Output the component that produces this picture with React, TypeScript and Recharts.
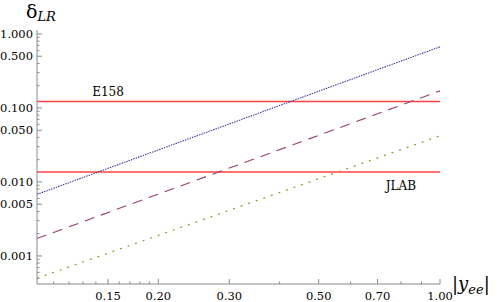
import React from "react";
import {
  LineChart,
  Line,
  XAxis,
  YAxis,
  ReferenceLine,
  ReferenceDot,
  Label,
} from "recharts";

const X_MAJOR = [0.15, 0.2, 0.3, 0.5, 0.7, 1.0];
const X_MINOR = [0.11, 0.12, 0.13, 0.14, 0.16, 0.17, 0.18, 0.19, 0.4, 0.6, 0.8, 0.9];
const Y_MAJOR = [0.001, 0.005, 0.01, 0.05, 0.1, 0.5, 1.0];
const Y_MINOR = [
  0.0005, 0.0006, 0.0007, 0.0008, 0.0009, 0.002, 0.003, 0.004, 0.006, 0.007, 0.008, 0.009,
  0.02, 0.03, 0.04, 0.06, 0.07, 0.08, 0.09, 0.2, 0.3, 0.4, 0.6, 0.7, 0.8, 0.9,
];

// curves (straight on log-log axes), read at the ends
const blueCurve = [
  { x: 0.1, y: 0.0068 },
  { x: 1.0, y: 0.67 },
];
const purpleCurve = [
  { x: 0.1, y: 0.00172 },
  { x: 1.0, y: 0.17 },
];
const oliveCurve = [
  { x: 0.1, y: 0.0005 },
  { x: 1.0, y: 0.042 },
];

// experimental bounds
const E158 = 0.122;
const JLAB = 0.0136;
const annotations = [
  { text: "E158", x: 0.15, y: 0.167 },
  { text: "JLAB", x: 0.8, y: 0.00883 },
];

// only DejaVu Serif renders with serifs here
const FONT = "DejaVu Serif";
const AXIS = "#8a8a8a";

const YTick = (props: any) => {
  const { x, y, payload } = props;
  const v = payload.value;
  const major = Y_MAJOR.some((m) => Math.abs(m - v) < 1e-9);
  const ax = x + 4;
  return (
    <g>
      <line x1={ax} x2={ax + (major ? 5 : 2.5)} y1={y} y2={y} stroke={AXIS} strokeWidth={1} />
      {major && (
        <text x={x} y={y} dy="0.36em" textAnchor="end" fontFamily={FONT} fontSize={11.5} fill="#000">
          {v.toFixed(3)}
        </text>
      )}
    </g>
  );
};

const XTick = (props: any) => {
  const { x, y, payload } = props;
  const v = payload.value;
  const major = X_MAJOR.some((m) => Math.abs(m - v) < 1e-9);
  return (
    <g>
      <line x1={x} x2={x} y1={y} y2={y - (major ? 5 : 2.5)} stroke={AXIS} strokeWidth={1} />
      {major && (
        <text x={x} y={y + 16} textAnchor="middle" fontFamily={FONT} fontSize={11.5} fill="#000">
          {v.toFixed(2)}
        </text>
      )}
    </g>
  );
};

export default function App() {
  return (
    <div style={{ position: "absolute", left: 0, top: 0, background: "#fff" }}>
      <LineChart width={498} height={302} margin={{ top: 30, right: 58, bottom: 0, left: 0 }}>
        <XAxis
          type="number"
          dataKey="x"
          scale="log"
          domain={[0.1, 1.0]}
          allowDataOverflow
          ticks={[...X_MINOR, ...X_MAJOR].sort((a, b) => a - b)}
          interval={0}
          tick={<XTick />}
          tickLine={false}
          tickSize={0}
          tickMargin={0}
          height={18}
          axisLine={{ stroke: AXIS }}
        >
          <Label
            content={(p: any) => {
              const vb = p.viewBox;
              const lx = vb.x + vb.width + 12;
              const ly = vb.y + 6;
              return (
                <text x={lx} y={ly} fontFamily={FONT} fontSize={18} fill="#000">
                  <tspan>|</tspan>
                  <tspan fontStyle="italic">y</tspan>
                  <tspan fontStyle="italic" fontSize={13} dy={4}>ee</tspan>
                  <tspan dy={-4}>|</tspan>
                </text>
              );
            }}
          />
        </XAxis>
        <YAxis
          type="number"
          dataKey="y"
          scale="log"
          domain={[0.000418, 1.13]}
          allowDataOverflow
          ticks={[...Y_MINOR, ...Y_MAJOR].sort((a, b) => a - b)}
          interval={0}
          tick={<YTick />}
          tickLine={false}
          tickSize={0}
          tickMargin={4}
          width={37}
          axisLine={{ stroke: AXIS }}
        >
          <Label
            content={(p: any) => {
              const vb = p.viewBox;
              return (
                <text x={vb.x + 26} y={vb.y - 12} fontFamily={FONT} fontSize={19} fill="#000">
                  <tspan>δ</tspan>
                  <tspan fontStyle="italic" fontSize={13} dy={3}>LR</tspan>
                </text>
              );
            }}
          />
        </YAxis>
        <ReferenceLine y={E158} stroke="#ff4040" strokeWidth={1.4} ifOverflow="hidden" />
        <ReferenceLine y={JLAB} stroke="#ff4040" strokeWidth={1.4} ifOverflow="hidden" />
        <Line
          data={blueCurve}
          dataKey="y"
          type="linear"
          stroke="#3d3da0"
          strokeWidth={1.1}
          strokeDasharray="1.5 1"
          dot={false}
          isAnimationActive={false}
        />
        <Line
          data={purpleCurve}
          dataKey="y"
          type="linear"
          stroke="#9a3d72"
          strokeWidth={1.1}
          strokeDasharray="10 7"
          dot={false}
          isAnimationActive={false}
        />
        <Line
          data={oliveCurve}
          dataKey="y"
          type="linear"
          stroke="#a6963f"
          strokeWidth={1.3}
          strokeDasharray="2 6"
          dot={false}
          isAnimationActive={false}
        />
        {annotations.map((a) => (
          <ReferenceDot
            key={a.text}
            x={a.x}
            y={a.y}
            r={1}
            fill="none"
            stroke="none"
            label={(p: any) => {
              const vb = p.viewBox;
              return (
                <text
                  x={vb.x + vb.width / 2}
                  y={vb.y + vb.height / 2}
                  dy="0.36em"
                  textAnchor="middle"
                  fontFamily={FONT}
                  fontSize={12}
                  fill="#000"
                >
                  {a.text}
                </text>
              );
            }}
          />
        ))}
      </LineChart>
    </div>
  );
}
